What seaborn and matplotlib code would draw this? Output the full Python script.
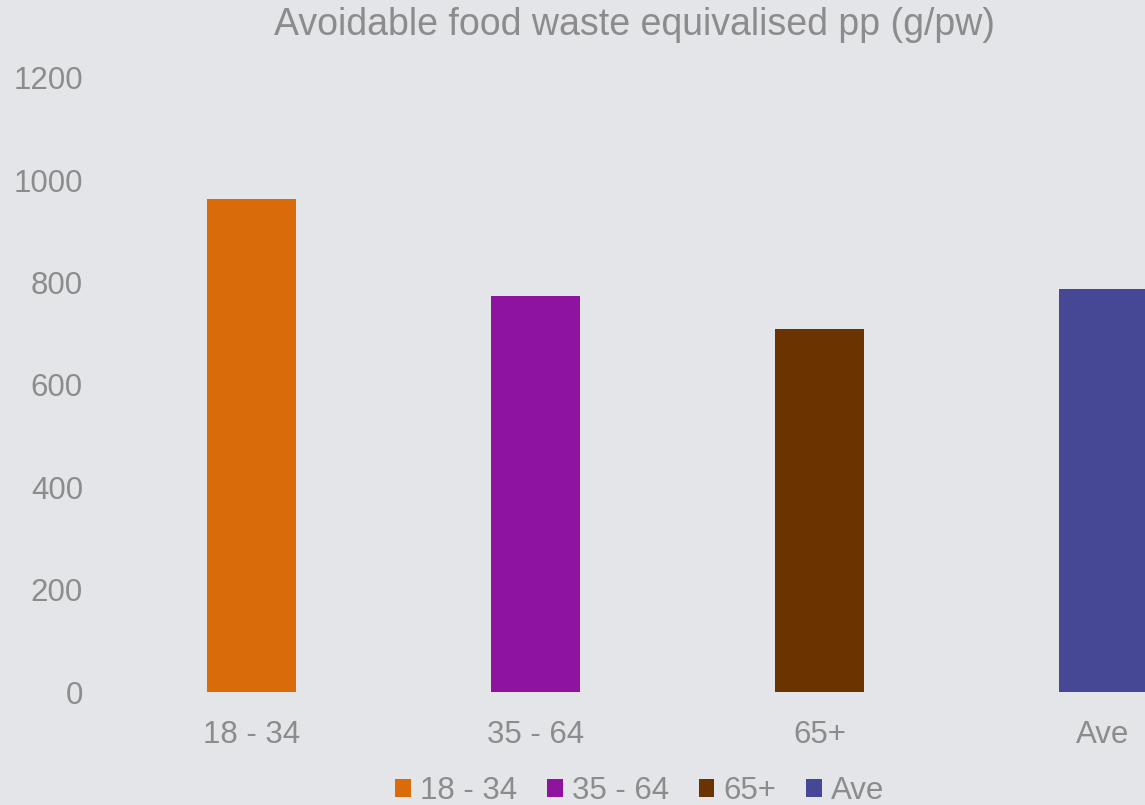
import seaborn as sns
import matplotlib.pyplot as plt
import pandas as pd

# age groups and avoidable food waste (g per person per week)
groups = ['18 - 34', '35 - 64', '65+', 'Ave']
waste = [963, 774, 710, 788]
colors = ['#D96B08', '#8E139E', '#6B3300', '#464896']

df = pd.DataFrame({'group': groups, 'waste': waste})

bg = '#E4E5E9'
txt = '#8C8C8C'

sns.set_theme(style='white')
plt.rcParams['font.family'] = ['Liberation Sans', 'DejaVu Sans']

fig = plt.figure(figsize=(11.45, 8.05), dpi=100, facecolor=bg)
ax = fig.add_axes([110 / 1145, 1 - 692 / 805, 1135 / 1145, 614 / 805])
ax.set_facecolor(bg)

sns.barplot(data=df, x='group', y='waste', hue='group', palette=colors,
            width=0.313, saturation=1, linewidth=0, legend=True, ax=ax)

handles, labels = ax.get_legend_handles_labels()
ax.get_legend().remove()
for h in handles:
    h.set_linewidth(0)

ax.set_xlim(-0.5, 3.5)
ax.set_ylim(0, 1200)
ax.set_yticks(range(0, 1201, 200))
ax.set_xlabel('')
ax.set_ylabel('')
for s in ax.spines.values():
    s.set_visible(False)
ax.tick_params(axis='both', length=0, labelsize=22.5, labelcolor=txt)
ax.tick_params(axis='y', pad=19.5)
ax.tick_params(axis='x', pad=20)

fig.text(634 / 1145, 1 - 35 / 805, 'Avoidable food waste equivalised pp (g/pw)',
         ha='center', va='baseline', fontsize=27, color=txt)

fig.legend(handles, labels, loc='center', bbox_to_anchor=(640 / 1145, 1 - 791 / 805),
           ncol=4, frameon=False, fontsize=22.5, labelcolor=txt,
           handlelength=0.5, handleheight=0.5, handletextpad=0.3, columnspacing=0.95)

fig.savefig('out.png', dpi=100, facecolor=bg)
